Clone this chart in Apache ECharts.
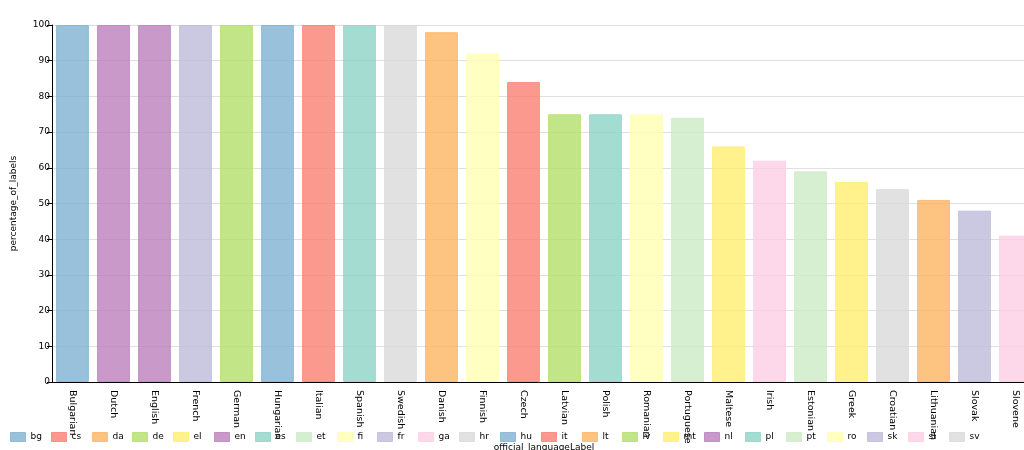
<!DOCTYPE html>
<html><head><meta charset="utf-8">
<script src="https://cdn.jsdelivr.net/npm/echarts@6/dist/echarts.min.js"></script>
<style>html,body{margin:0;padding:0;background:#fff}#c{width:1024px;height:450px}</style>
</head><body><div id="c"></div>
<script>
const categories = ["Bulgarian","Dutch","English","French","German","Hungarian","Italian","Spanish","Swedish","Danish","Finnish","Czech","Latvian","Polish","Romanian","Portuguese","Maltese","Irish","Estonian","Greek","Croatian","Lithuanian","Slovak","Slovene"];
const categoryCodes = ["bg","nl","en","fr","de","hu","it","es","sv","da","fi","cs","lv","pl","ro","pt","mt","ga","et","el","hr","lt","sk","sl"];
const values = [100,100,100,100,100,100,100,100,100,98,92,84,75,75,75,74,66,62,59,56,54,51,48,41];
const legendCodes = ["bg","cs","da","de","el","en","es","et","fi","fr","ga","hr","hu","it","lt","lv","mt","nl","pl","pt","ro","sk","sl","sv"];
const palette = ["#80b1d3","#fb8072","#fdb462","#b3de69","#ffed6f","#bc80bd","#8dd3c7","#ccebc5","#ffffb3","#bebada","#fccde5","#d9d9d9"];
const yTicks = [0,10,20,30,40,50,60,70,80,90,100];

const font = "DejaVu Sans";
const series = legendCodes.map((code, i) => ({
  name: code,
  type: 'bar',
  stack: 'all',
  barCategoryGap: '20%',
  data: categories.map((c, j) => categoryCodes[j] === code ? values[j] : '-'),
  itemStyle: { color: palette[i % 12], opacity: 0.8, borderColor: palette[i % 12], borderWidth: 1 }
}));

const legends = legendCodes.map((code, i) => ({
  data: [code],
  left: Math.round(10 + 40.83 * i), top: 432, padding: 0,
  itemWidth: 15, itemHeight: 9,
  icon: 'rect',
  itemStyle: { opacity: 0.8, borderWidth: 1 },
  textStyle: { fontFamily: font, fontSize: 9, color: '#000' }
}));

const chart = echarts.init(document.getElementById('c'));
chart.setOption({
  animation: false,
  color: legendCodes.map((c, i) => palette[i % 12]),
  grid: { left: 52, top: 25, width: 984, height: 357, outerBoundsMode: 'none', containLabel: false },
  legend: legends,
  xAxis: {
    type: 'category',
    data: categories,
    name: 'official_languageLabel',
    nameLocation: 'middle',
    nameGap: 61,
    nameMoveOverlap: false,
    nameTextStyle: { fontFamily: font, fontSize: 9, color: '#000' },
    axisLine: { lineStyle: { color: '#000' } },
    axisTick: { length: 5, lineStyle: { color: '#000' } },
    axisLabel: { rotate: -90, margin: 8, interval: 0, fontFamily: font, fontSize: 9.5, color: '#000' }
  },
  yAxis: {
    type: 'value',
    min: 0, max: 100, interval: 10,
    name: 'percentage_of_labels',
    nameLocation: 'middle',
    nameGap: 34,
    nameMoveOverlap: false,
    nameTextStyle: { fontFamily: font, fontSize: 9, color: '#000' },
    axisLine: { show: true, lineStyle: { color: '#000' } },
    axisTick: { show: true, length: 5, lineStyle: { color: '#000' } },
    axisLabel: { margin: 2, fontFamily: font, fontSize: 9, color: '#000',
      formatter: v => yTicks.includes(v) ? String(v) : '' },
    splitLine: { lineStyle: { color: '#e0e0e0' } }
  },
  series: series
});
</script></body></html>
